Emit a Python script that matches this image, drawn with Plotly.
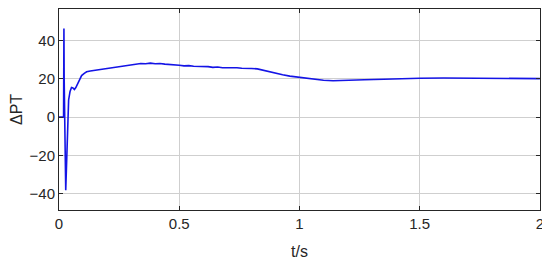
import plotly.graph_objects as go

# time axis (s) and delta PT values
t = [0.0, 0.019, 0.0205, 0.0215, 0.028, 0.032, 0.036, 0.040, 0.046, 0.052,
     0.058, 0.064, 0.070, 0.076, 0.085, 0.094, 0.105, 0.115, 0.13, 0.15,
     0.17, 0.20, 0.22, 0.24, 0.26, 0.28, 0.30, 0.32, 0.34, 0.36, 0.38,
     0.40, 0.42, 0.44, 0.46, 0.48, 0.50, 0.52, 0.54, 0.56, 0.58, 0.60,
     0.62, 0.64, 0.66, 0.68, 0.70, 0.72, 0.74, 0.76, 0.78, 0.80, 0.825,
     0.85, 0.875, 0.90, 0.93, 0.96, 1.00, 1.04, 1.07, 1.10, 1.14, 1.20,
     1.27, 1.35, 1.42, 1.50, 1.60, 1.70, 1.80, 1.90, 2.00]
dpt = [0.0, 0.0, 46.5, 20.0, -38.3, -20.0, 0.0, 9.0, 13.5, 15.5,
       15.3, 14.5, 15.5, 17.0, 19.8, 21.8, 23.0, 23.8, 24.2, 24.6,
       24.9, 25.5, 26.0, 26.4, 26.9, 27.2, 27.6, 27.8, 28.1, 28.0, 28.3,
       28.0, 28.1, 27.8, 27.7, 27.3, 27.2, 26.9, 27.0, 26.7, 26.7, 26.4,
       26.5, 26.1, 26.3, 25.9, 26.0, 25.8, 25.9, 25.6, 25.7, 25.5, 25.3,
       24.5, 23.6, 22.9, 22.2, 21.5, 20.8, 20.1, 19.6, 19.3, 19.1, 19.2,
       19.6, 19.9, 20.2, 20.4, 20.5, 20.5, 20.4, 20.3, 20.2]

x_ticks = [0, 0.5, 1, 1.5, 2]
x_labels = ["0", "0.5", "1", "1.5", "2"]
y_ticks = [-40, -20, 0, 20, 40]

fig = go.Figure()
fig.add_trace(go.Scatter(
    x=t, y=dpt, mode="lines",
    line=dict(color="#1414e6", width=1.6),
    showlegend=False
))

axis_common = dict(
    showline=True, linecolor="#262626", linewidth=1, mirror="ticks",
    ticks="inside", ticklen=4, tickcolor="#262626",
    showgrid=True, gridcolor="#cfcfcf", gridwidth=1,
    zeroline=False, automargin=False,
    tickfont=dict(family="Liberation Sans, Arial", size=15, color="#262626"),
)

fig.update_xaxes(
    range=[0, 2.0005], tickvals=x_ticks, ticktext=x_labels,
    title=dict(text="t/s", font=dict(family="Liberation Sans, Arial", size=16, color="#262626"), standoff=14),
    **axis_common
)
fig.update_yaxes(
    range=[-48.7, 56.7], tickvals=y_ticks,
    title=dict(text="ΔPT", font=dict(family="Liberation Sans, Arial", size=16, color="#262626"), standoff=4),
    **axis_common
)

# page body adds an 8px offset, so the figure is sized to fit inside it
fig.update_layout(
    width=542, height=258,
    margin=dict(l=51, r=10, t=1, b=56),
    plot_bgcolor="white", paper_bgcolor="white",
)

fig.write_html("out.html")
